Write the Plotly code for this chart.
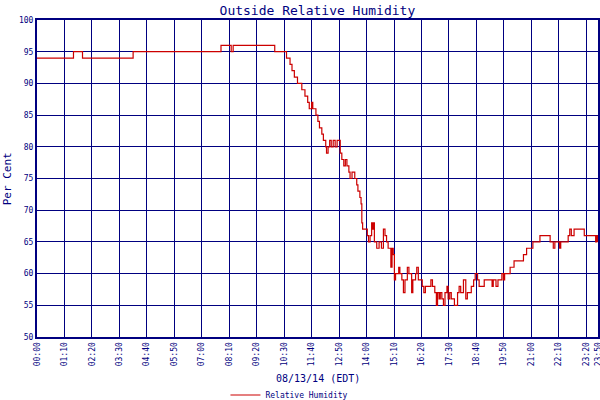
import plotly.graph_objects as go

# minutes after midnight (change points) and relative humidity (%)
minutes = [0, 93, 116, 245, 469, 495, 500, 606, 636, 645, 650, 656, 664, 675, 683, 690, 694, 700, 703,
           711, 716, 720, 726, 730, 736, 738, 742, 746, 750, 755, 760, 765, 771, 773, 777, 782, 786, 790,
           795, 798, 803, 806, 810, 815, 818, 823, 826, 828, 830, 842, 845, 849, 853, 856, 858, 860, 866,
           872, 878, 883, 887, 891, 895, 902, 905, 908, 911, 914, 922, 925, 930, 934, 938, 944, 948, 955,
           958, 965, 968, 972, 978, 982, 986, 990, 1000, 1004, 1008, 1014, 1018, 1021, 1025, 1028, 1032,
           1036, 1040, 1045, 1048, 1052, 1056, 1060, 1064, 1072, 1076, 1080, 1087, 1093, 1097, 1103, 1107,
           1113, 1117, 1123, 1127, 1140, 1160, 1163, 1170, 1175, 1185, 1189, 1192, 1206, 1216, 1240, 1248,
           1264, 1282, 1308, 1316, 1320, 1332, 1335, 1354, 1358, 1362, 1369, 1395, 1424, 1427, 1430]
humidity = [94, 95, 94, 95, 96, 95, 96, 95, 94, 93, 92, 91, 90, 89, 88, 87, 86, 87, 86,
            85, 84, 83, 82, 81, 80, 79, 80, 81, 80, 81, 80, 81, 81, 79, 78, 77, 78, 77,
            76, 75, 76, 76, 75, 74, 73, 72, 71, 68, 67, 66, 65, 66, 68, 67, 68, 65, 64,
            65, 64, 67, 66, 65, 64, 61, 64, 63, 59, 60, 61, 60, 59, 57, 59, 61, 60, 57,
            59, 60, 61, 59, 59, 58, 57, 58, 58, 59, 58, 57, 55, 57, 56, 57, 56,
            55, 57, 58, 56, 57, 56, 56, 55, 57, 58, 57, 59, 56, 57, 57, 58,
            59, 60, 59, 58, 59, 58, 59, 58, 59, 60, 59, 60, 61, 62, 63, 64,
            65, 66, 65, 64, 65, 64, 65, 66, 67, 66, 67, 66, 65, 66, 65]

tick_minutes = [0, 70, 140, 210, 280, 350, 420, 490, 560, 630, 700, 770, 840, 910, 980,
                1050, 1120, 1190, 1260, 1330, 1400, 1430]
tick_labels = ["00:00", "01:10", "02:20", "03:30", "04:40", "05:50", "07:00", "08:10", "09:20",
               "10:30", "11:40", "12:50", "14:00", "15:10", "16:20", "17:30", "18:40", "19:50",
               "21:00", "22:10", "23:20", "23:50"]
y_ticks = [50, 55, 60, 65, 70, 75, 80, 85, 90, 95, 100]

NAVY = "#000080"
RED = "#CC0000"
FONT = "DejaVu Sans Mono"

fig = go.Figure()
fig.add_trace(go.Scatter(x=minutes, y=humidity, mode="lines", line=dict(color=RED, width=1.2, shape="hv"),
                         name="Relative Humidity"))

fig.update_layout(
    width=600, height=400,
    margin=dict(l=37, r=2, t=20, b=63, autoexpand=False),
    paper_bgcolor="white", plot_bgcolor="white",
    font=dict(family=FONT, color=NAVY, size=9),
    title=dict(text="Outside Relative Humidity", x=0.529, xanchor="center", y=0.985, yanchor="top",
               font=dict(family=FONT, size=13, color=NAVY)),
    showlegend=True,
    legend=dict(orientation="h", x=0.45, xanchor="center", y=-0.183, yanchor="middle",
                font=dict(family=FONT, size=8, color=NAVY), bgcolor="rgba(0,0,0,0)"),
    xaxis=dict(range=[0, 1430], tickmode="array", tickvals=tick_minutes, ticktext=tick_labels,
               tickangle=-90, showgrid=True, gridcolor=NAVY, gridwidth=1, zeroline=False,
               showline=True, linecolor=NAVY, linewidth=2, mirror=True, ticks="", automargin=False,
               ticklabeloverflow="allow",
               tickfont=dict(family=FONT, size=8, color=NAVY)),
    yaxis=dict(range=[50, 100], tickmode="array", tickvals=y_ticks, showgrid=True, gridcolor=NAVY,
               gridwidth=1, zeroline=False, showline=True, linecolor=NAVY, linewidth=2, mirror=True,
               ticks="", automargin=False, tickfont=dict(family=FONT, size=8, color=NAVY)),
    annotations=[
        dict(text="08/13/14 (EDT)", xref="paper", yref="paper", x=0.5, y=-0.13, showarrow=False,
             xanchor="center", yanchor="middle", font=dict(family=FONT, size=10, color=NAVY)),
        dict(text="Per Cent", xref="paper", yref="paper", x=-0.052, y=0.5, showarrow=False,
             textangle=-90, xanchor="center", yanchor="middle", font=dict(family=FONT, size=11, color=NAVY)),
    ],
)

fig.write_html("out.html", config={"displayModeBar": False},
               post_script="document.body.style.margin='0';document.body.style.overflow='hidden';")
